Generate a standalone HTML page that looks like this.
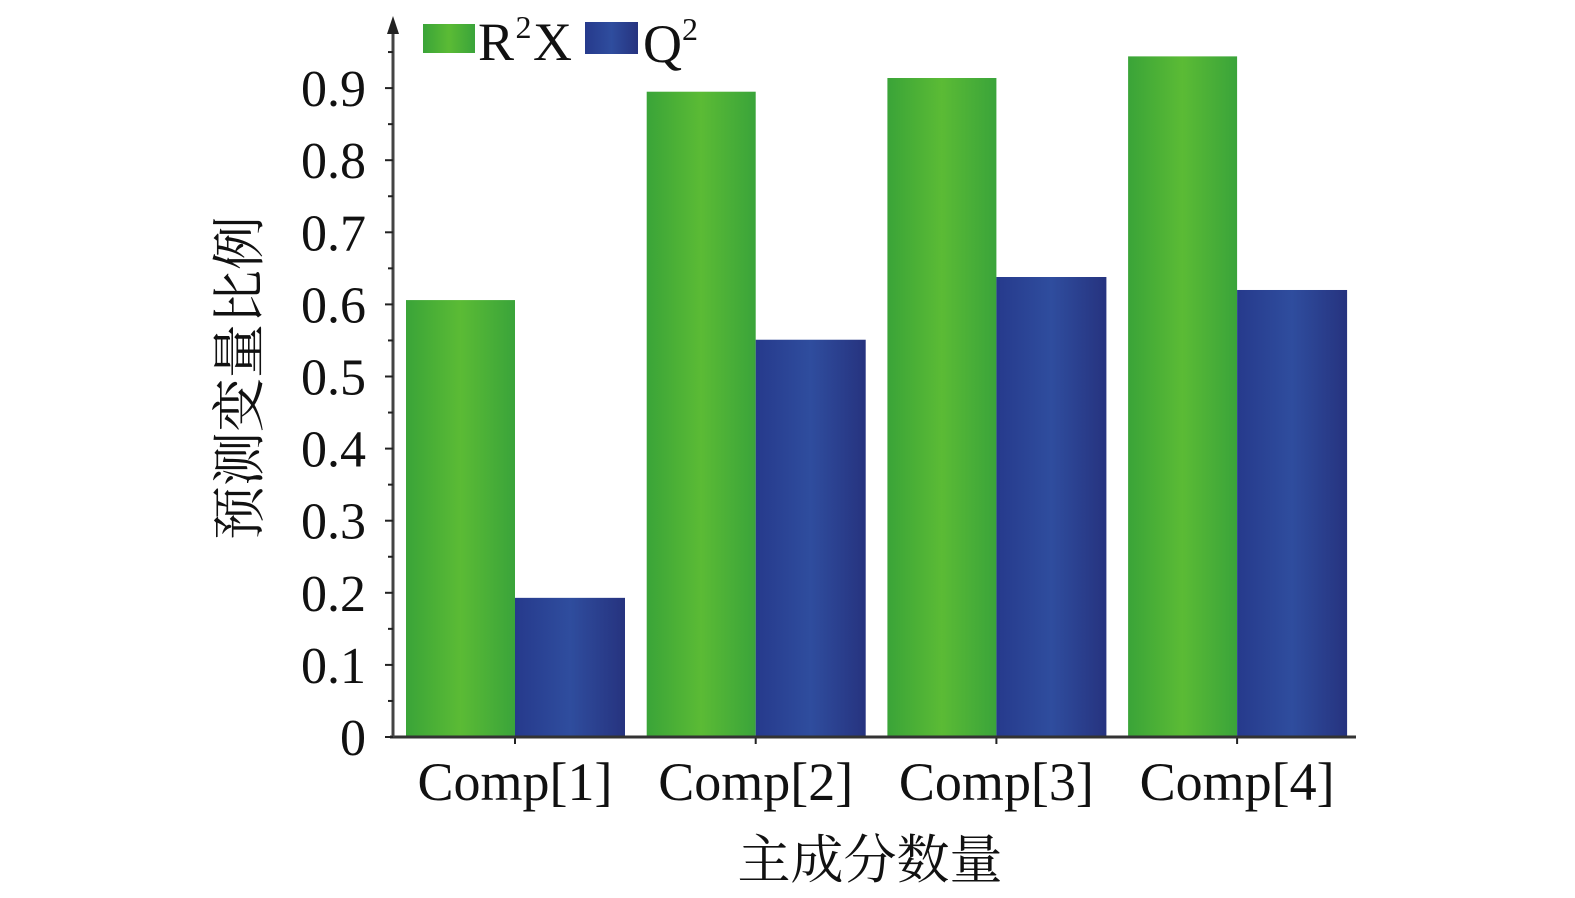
<!DOCTYPE html>
<html><head><meta charset="utf-8"><style>
body{margin:0;background:#fff;}
svg{display:block;}
text{font-family:"Liberation Serif","Noto Serif CJK SC",serif;fill:#111;}
</style></head><body>
<svg id="chart" width="1575" height="898" viewBox="0 0 1575 898">
<defs>
<linearGradient id="gG" x1="0" x2="1" y1="0" y2="0"><stop offset="0" stop-color="#3aa438"/><stop offset="0.5" stop-color="#5bbb35"/><stop offset="1" stop-color="#3aa43a"/></linearGradient>
<linearGradient id="gB" x1="0" x2="1" y1="0" y2="0"><stop offset="0" stop-color="#263a8c"/><stop offset="0.5" stop-color="#2f4d9e"/><stop offset="1" stop-color="#26337f"/></linearGradient>
</defs>
<g id="bars"></g>
<g id="axes"></g>
<g>
<rect x="423" y="24" width="52" height="29" fill="url(#gG)"/>
<text x="478" y="60" font-size="54" textLength="94">R<tspan font-size="32" dy="-22">2</tspan><tspan dy="22">X</tspan></text>
<rect x="585" y="22" width="53" height="32" fill="url(#gB)"/>
<text x="643" y="62" font-size="54">Q<tspan font-size="32" dy="-22">2</tspan></text>
</g>
<text x="870" y="878" font-size="53" text-anchor="middle">主成分数量</text>
<text transform="translate(258,378) rotate(-90)" font-size="54" text-anchor="middle">预测变量比例</text>
</svg>
<script>
const categories=["Comp[1]","Comp[2]","Comp[3]","Comp[4]"];
const r2x=[0.606,0.895,0.914,0.944];
const q2=[0.193,0.551,0.638,0.620];
const yTicks=[0,0.1,0.2,0.3,0.4,0.5,0.6,0.7,0.8,0.9];
const yTickLabels=["0","0.1","0.2","0.3","0.4","0.5","0.6","0.7","0.8","0.9"];
const NS="http://www.w3.org/2000/svg";
const y0=737,pxPer=721,xL=406,groupW=240.7,barW=109;
const y=v=>y0-v*pxPer;
const xg=i=>xL+i*groupW;
function mk(tag,attrs,parent){const e=document.createElementNS(NS,tag);for(const k in attrs)e.setAttribute(k,attrs[k]);parent.appendChild(e);return e;}
const bars=document.getElementById('bars'),axes=document.getElementById('axes');
categories.forEach((c,i)=>{
 let g=mk('rect',{x:xg(i),y:y(r2x[i]),width:barW,height:y0-y(r2x[i]),fill:'url(#gG)'},bars);
 
 
 let b=mk('rect',{x:xg(i)+barW,y:y(q2[i]),width:barW+1,height:y0-y(q2[i]),fill:'url(#gB)'},bars);
 
 
 let t=mk('text',{x:xg(i)+barW,y:800,'font-size':54,'text-anchor':'middle',textLength:195},axes);t.textContent=c;
 
 
 let tk=mk('line',{x1:xg(i)+barW,x2:xg(i)+barW,y1:y0,y2:y0+7,stroke:'#222','stroke-width':2},axes);
 
 
});
let xa=mk('line',{x1:390,x2:1356,y1:y0,y2:y0,stroke:'#333','stroke-width':3},axes);


let ya=mk('line',{x1:393,x2:393,y1:y0,y2:30,stroke:'#444','stroke-width':3},axes);


let ar=mk('polygon',{points:'393,16 387,34 399,34',fill:'#222'},axes);


yTicks.forEach((v,i)=>{
 let l=mk('line',{x1:385,x2:393,y1:y(v),y2:y(v),stroke:'#222','stroke-width':2},axes);
 
 
 let m=mk('line',{x1:388,x2:393,y1:y(v+0.05),y2:y(v+0.05),stroke:'#222','stroke-width':2},axes);
 
 
 let t=mk('text',{x:366,y:y(v)+18,'font-size':52,'text-anchor':'end'},axes);t.textContent=yTickLabels[i];
 
 
});
</script>
</body></html>
